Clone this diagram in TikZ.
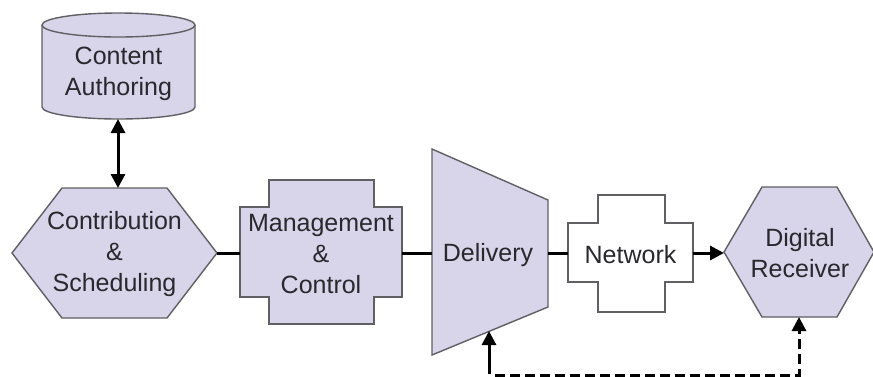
\documentclass[tikz,border=0pt]{standalone}
\usepackage{fontspec}
\setmainfont{Liberation Sans}
\usetikzlibrary{arrows.meta}
\definecolor{lav}{RGB}{216,212,233}
\definecolor{edge}{RGB}{95,95,100}
\definecolor{txt}{RGB}{40,40,45}
\tikzset{
  shapebox/.style={draw=edge, line width=1.4pt, fill=lav, line join=miter},
  whitebox/.style={draw=edge, line width=1.4pt, fill=white},
  label/.style={align=center, text=txt, font=\fontsize{25}{31}\selectfont, inner sep=0pt},
  conn/.style={line width=3pt, black},
  tip/.style={-{Triangle[length=14pt,width=14pt]}},
  tips/.style={{Triangle[length=14pt,width=14pt]}-{Triangle[length=14pt,width=14pt]}},
}
\begin{document}
\begin{tikzpicture}[x=1pt,y=-1pt]
\useasboundingbox (0,0) rectangle (873,376);
% Content Authoring cylinder
\draw[shapebox] (42,25) -- (42,107) arc[start angle=180,end angle=0,x radius=76.5,y radius=12] -- (195,25) arc[start angle=0,end angle=-180,x radius=76.5,y radius=12] -- cycle;
\draw[edge, line width=1.4pt] (42,25) arc[start angle=180,end angle=0,x radius=76.5,y radius=12];
\node[label] (ca) at (118.5,74) {Content\\Authoring};
\coordinate (caB) at (118,119);
% Contribution & Scheduling hexagon
\draw[shapebox] (12,253) -- (62,188) -- (167,188) -- (217,253) -- (167,318) -- (62,318) -- cycle;
\node[label] (cs) at (114.5,254) {Contribution\\\&\\Scheduling};
\coordinate (csT) at (118,188);
\coordinate (csR) at (217,253);
% Management & Control cross
\draw[shapebox] (240,207) -- (269,207) -- (269,180) -- (374,180) -- (374,207) -- (402,207) -- (402,297) -- (374,297) -- (374,324) -- (269,324) -- (269,297) -- (240,297) -- cycle;
\node[label] (mc) at (321,254) {Management\\\&\\Control};
\coordinate (mcL) at (240,253);
\coordinate (mcR) at (402,253);
% Delivery trapezoid
\draw[shapebox] (432,149) -- (548,200) -- (548,307) -- (432,355) -- cycle;
\node[label] (dl) at (488,255) {Delivery};
\coordinate (dlL) at (432,253);
\coordinate (dlR) at (548,253);
\coordinate (dlB) at (489,331);
% Network cross
\draw[whitebox] (568,223) -- (598,223) -- (598,195) -- (665,195) -- (665,223) -- (693,223) -- (693,282) -- (665,282) -- (665,312) -- (598,312) -- (598,282) -- (568,282) -- cycle;
\node[label] (nw) at (630.5,255) {Network};
\coordinate (nwL) at (568,253);
\coordinate (nwR) at (693,253);
% Digital Receiver hexagon
\draw[shapebox] (724,252) -- (762,187) -- (837,187) -- (874,252) -- (837,317) -- (762,317) -- cycle;
\node[label] (dr) at (800,253) {Digital\\Receiver};
\coordinate (drL) at (724,253);
\coordinate (drB) at (799,317);
% connectors
\draw[conn, tips] (caB) -- (csT);
\draw[conn] (csR) -- (mcL);
\draw[conn] (mcR) -- (dlL);
\draw[conn] (dlR) -- (nwL);
\draw[conn, tip] (nwR) -- (drL);
\coordinate (c1) at (489,375);
\coordinate (c2) at (799,375);
\draw[conn, tips, dash pattern=on 30pt off 7pt on 10pt off 5pt on 10pt off 5pt on 10pt off 5pt on 10pt off 5pt on 10pt off 5pt on 10pt off 5pt on 10pt off 5pt on 10pt off 5pt on 10pt off 5pt on 10pt off 5pt on 10pt off 5pt on 10pt off 5pt on 10pt off 5pt on 10pt off 5pt on 10pt off 5pt on 10pt off 5pt on 10pt off 5pt on 10pt off 5pt on 10pt off 5pt on 10pt off 5pt on 10pt off 5pt on 10pt off 5pt on 10pt off 5pt]
  (dlB) -- (c1) -- (c2) -- (drB);
\end{tikzpicture}
\end{document}
